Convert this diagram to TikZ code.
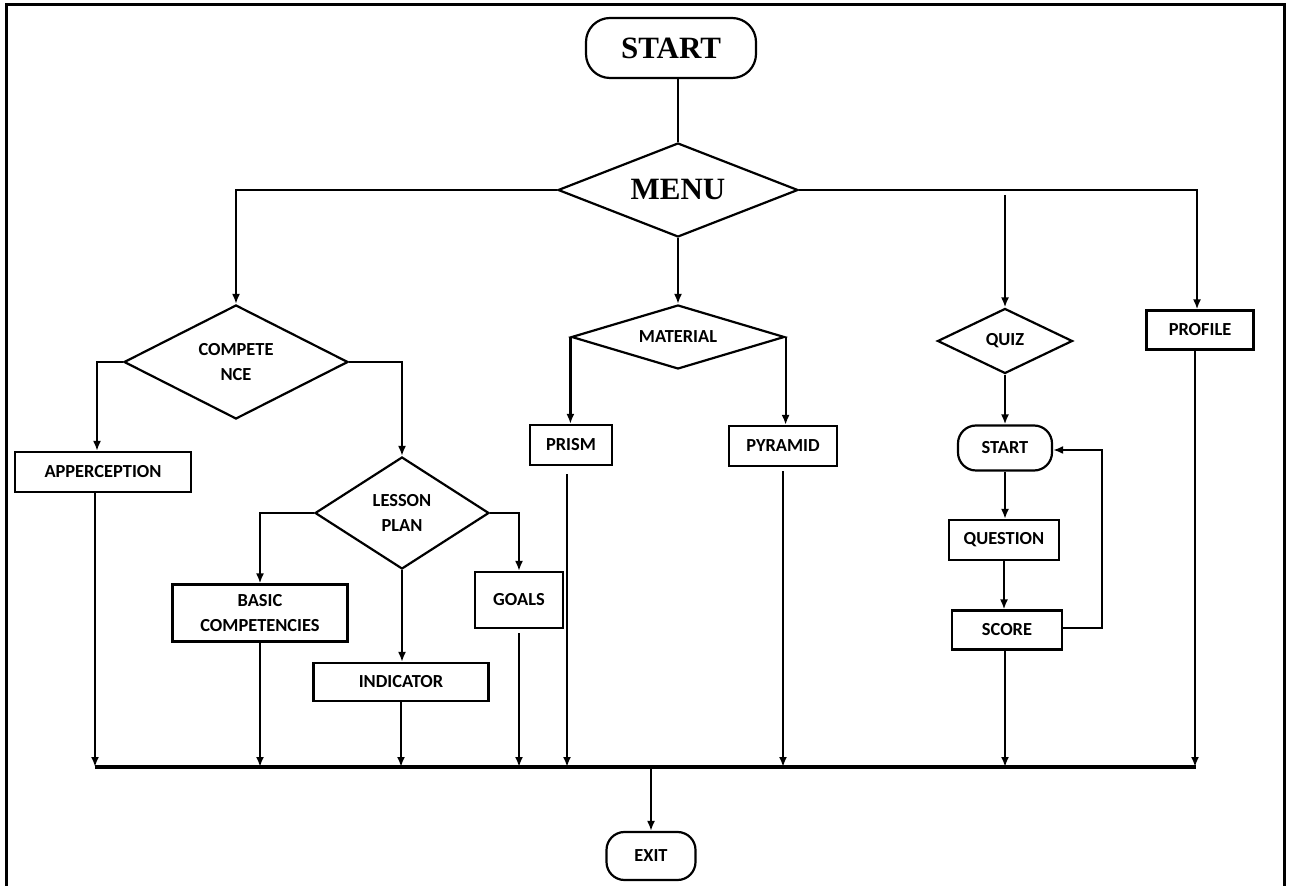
\documentclass[tikz,border=0pt]{standalone}
\usepackage{fontspec}
\setmainfont{Liberation Serif}
\newfontfamily\labfont{Carlito}
\usetikzlibrary{shapes.geometric,arrows.meta}
\begin{document}
\begin{tikzpicture}[x=0.5pt,y=-0.5pt,line width=1.1pt,
  lab/.style={font=\labfont\bfseries\fontsize{9.2}{12.5}\selectfont,align=center,inner sep=0pt},
  box/.style={lab,draw,rectangle},
  term/.style={draw,rectangle,inner sep=0pt},
  dia/.style={lab,draw,diamond},
  big/.style={font=\bfseries\fontsize{15.5}{17}\selectfont},
  arr/.style={-{Latex[length=5pt,width=4pt]}}
]
\useasboundingbox (0,0) rectangle (1290,886);
\draw[line width=1.5pt] (6,886) -- (6,5) -- (1284,5) -- (1284,886);

% nodes
\node[term,big,rounded corners=12pt,minimum width=85pt,minimum height=30pt] (start) at (671,48) {START};
\node[draw,diamond,big,inner sep=0pt,aspect=2.55,minimum width=120pt,minimum height=47pt] (menu) at (678,190) {MENU};

\node[dia,aspect=1.97,minimum width=112pt,minimum height=57pt] (comp) at (236,362) {COMPETE\\NCE};
\node[box,minimum width=88pt,minimum height=20pt] (app) at (103,472) {APPERCEPTION};
\node[dia,aspect=1.55,minimum width=87pt,minimum height=56pt] (lp) at (402,513) {LESSON\\PLAN};
\node[box,minimum width=87.5pt,minimum height=28.5pt] (basic) at (260,613) {BASIC\\COMPETENCIES};
\node[box,minimum width=87.5pt,minimum height=19pt] (ind) at (401,682) {INDICATOR};
\node[box,minimum width=44pt,minimum height=28pt] (goals) at (519,600) {GOALS};

\node[dia,aspect=3.33,minimum width=106.5pt,minimum height=32pt] (mat) at (678,337) {MATERIAL};
\node[box,minimum width=41pt,minimum height=20pt] (prism) at (571,445) {PRISM};
\node[box,minimum width=54pt,minimum height=20pt] (pyr) at (783,446) {PYRAMID};

\node[dia,aspect=2.08,minimum width=67.5pt,minimum height=32.5pt] (quiz) at (1005,341) {QUIZ};
\node[term,lab,rounded corners=9pt,minimum width=47pt,minimum height=22.5pt] (start2) at (1005,448) {START};
\node[box,minimum width=55pt,minimum height=20pt] (quest) at (1004,540) {QUESTION};
\node[box,minimum width=55pt,minimum height=19.5pt] (score) at (1007,630) {SCORE};

\node[box,minimum width=53.5pt,minimum height=19.5pt] (prof) at (1200,330) {PROFILE};

\node[term,lab,rounded corners=9pt,minimum width=44.5pt,minimum height=24pt] (exit) at (651,856) {EXIT};

% connectors from top
\draw (menu.north) -- (menu.north |- start.south);
\draw[arr] (menu.west) -| (comp.north);
\draw[arr] (menu.south) -- (mat.north);
\draw[arr] (menu.east) -| ([xshift=-1.5pt]prof.north);
\draw[arr] ([yshift=-2.5pt]menu.east -| quiz.north) -- (quiz.north);

\draw[arr] (comp.west) -| ([xshift=-3pt]app.north);
\draw[arr] (comp.east) -| (lp.north);
\draw[arr] (lp.west) -| (basic.north);
\draw[arr] (lp.south) -- (lp.south |- ind.north);
\draw[arr] (lp.east) -| (goals.north);

\draw[arr] (mat.west) -- (mat.west |- prism.north);
\draw[arr] (mat.east) -- (mat.east |- pyr.north);

\draw[arr] (quiz.south) -- (start2.north);
\draw[arr] (start2.south) -- (quest.north -| start2.south);
\draw[arr] (quest.south) -- (score.north -| quest.south);
\draw[arr] ([yshift=1pt]score.east) -- ++(39,0) |- ([yshift=-1pt]start2.east);

% bus
\coordinate (busL) at (95,767);
\coordinate (busR) at (1196,767);
\draw[line width=1.8pt] (busL) -- (busR);

\draw[arr] ([xshift=-4pt]app.south) -- ([xshift=-4pt]app.south |- busL);
\draw[arr] (basic.south) -- (basic.south |- busL);
\draw[arr] (ind.south) -- (ind.south |- busL);
\draw[arr] ([yshift=-2pt]goals.south) -- (goals.south |- busL);
\draw[arr] ([xshift=-2pt,yshift=-4pt]prism.south) -- ([xshift=-2pt]prism.south |- busL);
\draw[arr] ([yshift=-2pt]pyr.south) -- (pyr.south |- busL);
\draw[arr] ([xshift=-1pt]score.south) -- ([xshift=-1pt]score.south |- busL);
\draw[arr] ([xshift=-2.5pt]prof.south) -- ([xshift=-2.5pt]prof.south |- busL);

\draw[arr] (exit.north |- busL) -- (exit.north);
\end{tikzpicture}
\end{document}
